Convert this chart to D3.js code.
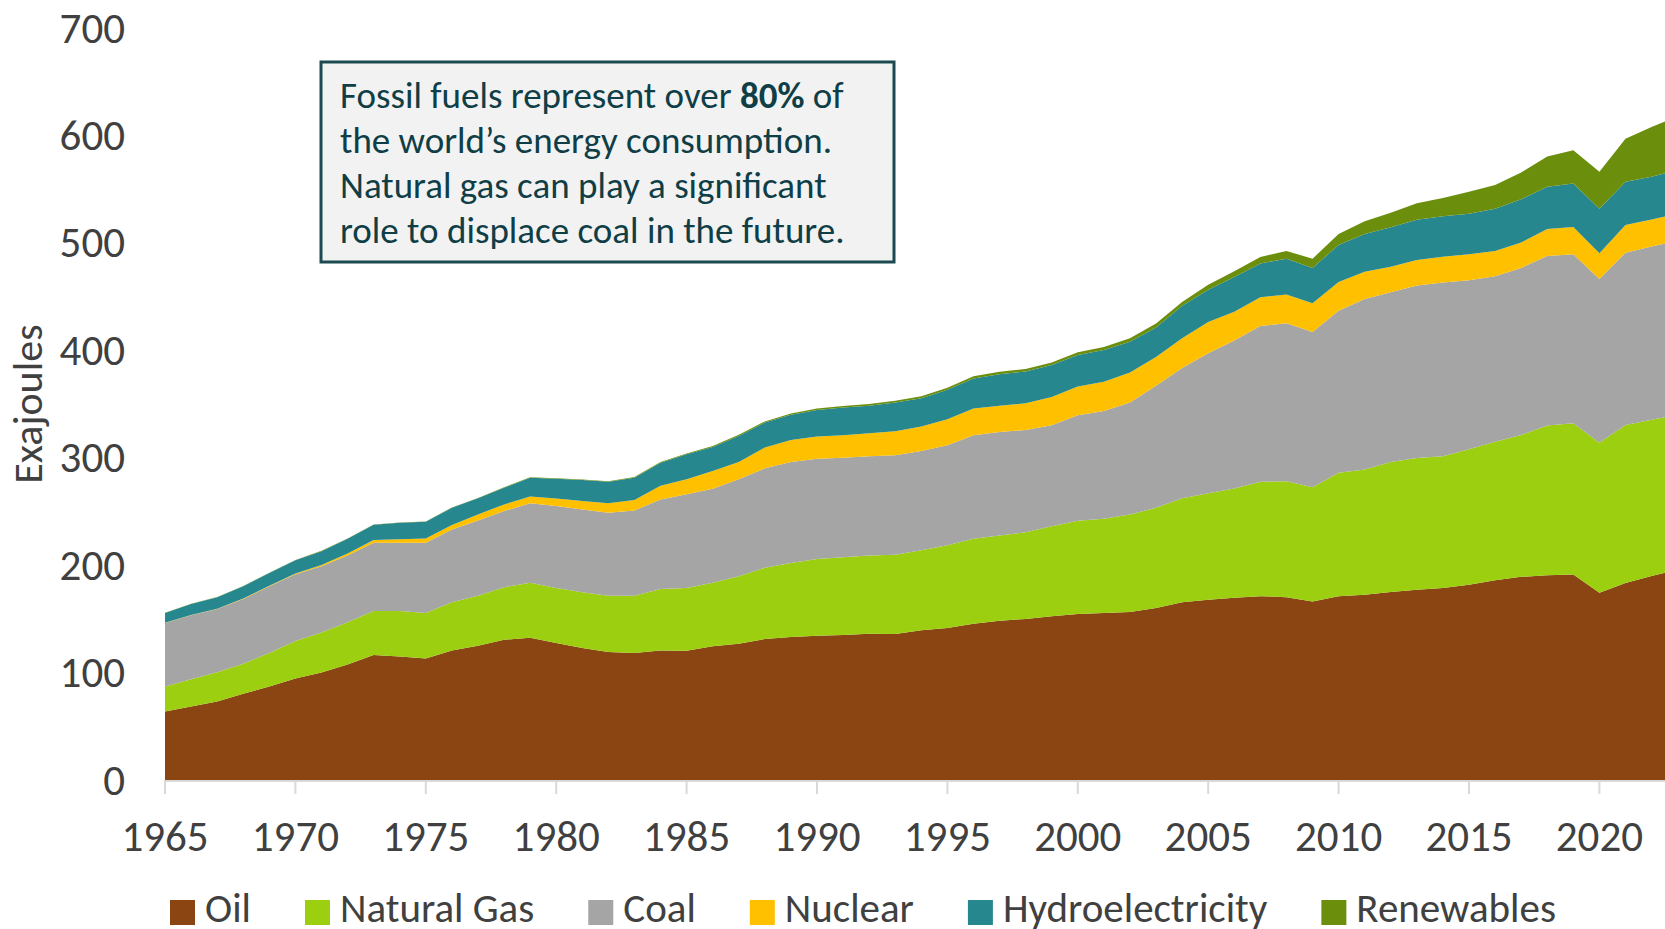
<!DOCTYPE html>
<html>
<head>
<meta charset="utf-8">
<script src="https://cdn.jsdelivr.net/npm/d3@7"></script>
<style>
	html, body { margin: 0; padding: 0; background: #fff; }
	svg { display: block; font-family: Carlito, Calibri, Lato, sans-serif; }
	.tick-label { fill: #404040; font-size: 43px; }
	.axis-title { fill: #404040; font-size: 42px; }
	.legend-label { fill: #404040; font-size: 41px; }
	.note { fill: #0f3e46; font-size: 37px; }
</style>
</head>
<body>
<script>
const years = d3.range(1965, 2024);

const oil = [
	63.7, 68.4, 73.1, 80.2, 87.1, 94.5, 100.1, 107.6, 116.3, 115.0,
	113.2, 120.6, 125.0, 130.6, 132.5, 127.5, 122.8, 119.1, 118.2, 120.5,
	120.3, 124.4, 126.9, 131.2, 133.1, 134.3, 135.0, 136.2, 135.9, 139.3,
	141.5, 145.5, 148.3, 149.9, 152.4, 154.5, 155.5, 156.4, 160.1, 165.5,
	167.7, 169.6, 171.1, 170.2, 166.1, 171.1, 172.4, 174.9, 177.1, 178.7,
	181.8, 185.9, 189.1, 190.6, 191.3, 174.3, 183.4, 190.0, 195.6
];
const naturalGas = [
	23.4, 25.5, 27.3, 28.0, 31.1, 34.9, 37.3, 39.2, 41.0, 42.3,
	42.3, 44.8, 46.6, 48.8, 51.0, 51.3, 52.0, 52.5, 53.4, 57.4,
	58.5, 59.1, 62.8, 66.3, 69.0, 71.5, 72.4, 72.8, 73.7, 74.6,
	77.1, 79.0, 79.3, 80.8, 83.9, 86.8, 87.7, 90.8, 93.3, 96.8,
	99.3, 101.8, 106.6, 107.8, 106.3, 114.8, 116.6, 121.1, 122.6, 122.6,
	126.1, 128.9, 132.0, 139.3, 140.8, 139.6, 147.1, 145.3, 144.1
];
const coal = [
	59.0, 59.4, 58.8, 60.3, 62.1, 62.1, 61.6, 62.2, 63.5, 63.5,
	65.3, 67.8, 70.0, 70.9, 74.0, 76.2, 77.1, 77.2, 79.3, 83.3,
	87.1, 87.6, 90.2, 92.6, 93.9, 93.3, 92.6, 92.3, 92.6, 92.4,
	93.0, 96.4, 96.4, 95.2, 93.9, 98.3, 100.4, 104.2, 113.5, 121.1,
	130.2, 137.7, 145.0, 147.2, 144.6, 150.9, 158.8, 158.1, 160.7, 161.9,
	157.2, 154.1, 155.6, 157.8, 157.2, 152.5, 160.4, 161.2, 162.6
];
const nuclear = [
	0.2, 0.2, 0.3, 0.4, 0.5, 0.8, 1.2, 1.9, 2.5, 3.2,
	4.0, 4.1, 5.6, 6.2, 6.4, 7.0, 7.7, 8.7, 9.7, 12.8,
	14.0, 16.5, 16.1, 19.3, 20.5, 20.6, 20.9, 21.5, 22.4, 22.7,
	24.2, 24.9, 24.3, 24.8, 26.4, 26.7, 27.0, 28.0, 26.8, 27.9,
	29.2, 26.8, 26.7, 26.7, 26.7, 26.7, 25.2, 23.6, 23.6, 23.9,
	24.2, 23.6, 23.6, 25.2, 25.5, 23.9, 25.8, 25.2, 25.0
];
const hydro = [
	9.2, 10.4, 10.6, 11.4, 12.0, 12.3, 12.8, 13.6, 14.3, 15.4,
	15.6, 16.1, 15.0, 15.5, 17.5, 18.5, 19.6, 20.2, 20.8, 21.4,
	23.3, 22.4, 24.3, 23.3, 23.4, 24.8, 25.8, 25.5, 26.8, 26.4,
	27.4, 28.0, 29.5, 29.6, 29.6, 29.2, 29.6, 28.5, 27.5, 30.2,
	29.9, 32.4, 31.4, 33.3, 33.0, 34.6, 35.2, 36.8, 37.4, 37.7,
	37.7, 39.3, 40.3, 39.3, 40.5, 41.5, 40.2, 39.9, 40.7
];
const renewables = [
	0.2, 0.2, 0.2, 0.2, 0.2, 0.3, 0.3, 0.3, 0.3, 0.3,
	0.3, 0.3, 0.3, 0.4, 0.4, 0.4, 0.5, 0.5, 0.6, 0.7,
	0.8, 0.9, 1.0, 1.1, 1.3, 1.4, 1.5, 1.6, 1.7, 1.8,
	1.9, 2.0, 2.2, 2.3, 2.5, 2.7, 2.9, 3.3, 3.7, 3.5,
	4.7, 5.3, 6.0, 7.3, 8.5, 10.1, 11.9, 13.5, 15.5, 17.0,
	20.5, 22.0, 24.8, 28.3, 30.9, 34.5, 39.9, 46.2, 50.0
];

const seriesNames = ["Oil", "Natural Gas", "Coal", "Nuclear", "Hydroelectricity", "Renewables"];
const seriesValues = [oil, naturalGas, coal, nuclear, hydro, renewables];
const colors = ["#8B4513", "#9BCF0F", "#A5A5A5", "#FFC000", "#27878F", "#6B8E0D"];

const yTicks = [0, 100, 200, 300, 400, 500, 600, 700];
const xTicks = [1965, 1970, 1975, 1980, 1985, 1990, 1995, 2000, 2005, 2010, 2015, 2020];

const config = {
	width: 1665,
	height: 929,
	left: 165,
	yearStep: 26.08,
	top: 28,
	bottom: 780
};

const rows = years.map((year, i) => {
	const row = { year: year };
	seriesNames.forEach((name, s) => { row[name] = seriesValues[s][i]; });
	return row;
});

const svg = d3.select("body")
	.append("svg")
	.attr("width", config.width)
	.attr("height", config.height);

const x = d3.scaleLinear()
	.domain([1965, 2023])
	.range([config.left, config.left + 58 * config.yearStep]);

const y = d3.scaleLinear()
	.domain([0, 700])
	.range([config.bottom, config.top]);

const color = d3.scaleOrdinal().domain(seriesNames).range(colors);

// stacked areas
const stacked = d3.stack().keys(seriesNames)(rows);

const area = d3.area()
	.x(d => x(d.data.year))
	.y0(d => y(d[0]))
	.y1(d => y(d[1]));

svg.append("g")
	.selectAll("path")
	.data(stacked)
	.join("path")
	.attr("fill", d => color(d.key))
	.attr("d", area);

// x axis line + ticks
svg.append("line")
	.attr("x1", x(1965))
	.attr("x2", config.width)
	.attr("y1", y(0) + 1)
	.attr("y2", y(0) + 1)
	.attr("stroke", "#d9d9d9")
	.attr("stroke-width", 2);

svg.append("g")
	.selectAll("line")
	.data(xTicks)
	.join("line")
	.attr("x1", d => x(d))
	.attr("x2", d => x(d))
	.attr("y1", y(0))
	.attr("y2", y(0) + 14)
	.attr("stroke", "#d9d9d9")
	.attr("stroke-width", 2);

svg.append("g")
	.selectAll("text")
	.data(xTicks)
	.join("text")
	.attr("class", "tick-label")
	.attr("x", d => x(d))
	.attr("y", y(0) + 56)
	.attr("text-anchor", "middle")
	.attr("dominant-baseline", "central")
	.text(d => d);

// y labels
svg.append("g")
	.selectAll("text")
	.data(yTicks)
	.join("text")
	.attr("class", "tick-label")
	.attr("x", 125)
	.attr("y", d => y(d))
	.attr("text-anchor", "end")
	.attr("dominant-baseline", "central")
	.text(d => d);

svg.append("text")
	.attr("class", "axis-title")
	.attr("transform", "translate(27, 404) rotate(-90)")
	.attr("text-anchor", "middle")
	.attr("dominant-baseline", "central")
	.text("Exajoules");

// legend
const legend = svg.append("g");
let legendX = 170;
seriesNames.forEach((name) => {
	legend.append("rect")
		.attr("x", legendX)
		.attr("y", 900)
		.attr("width", 25)
		.attr("height", 25)
		.attr("fill", color(name));
	const label = legend.append("text")
		.attr("class", "legend-label")
		.attr("x", legendX + 35)
		.attr("y", 922)
		.text(name);
	legendX += 35 + label.node().getComputedTextLength() + 54;
});

// annotation box
const note = svg.append("g");
note.append("rect")
	.attr("x", 321)
	.attr("y", 62)
	.attr("width", 573)
	.attr("height", 200)
	.attr("fill", "#f2f2f2")
	.attr("stroke", "#1b4a51")
	.attr("stroke-width", 3);

const noteLines = [
	[["Fossil fuels represent over ", false], ["80%", true], [" of", false]],
	[["the world\u2019s energy consumption.", false]],
	[["Natural gas can play a significant", false]],
	[["role to displace coal in the future.", false]]
];

noteLines.forEach((parts, i) => {
	const t = note.append("text")
		.attr("class", "note")
		.attr("x", 340)
		.attr("y", 95 + i * 45)
		.attr("dominant-baseline", "central");
	parts.forEach(([str, bold]) => {
		t.append("tspan")
			.attr("font-weight", bold ? "bold" : null)
			.text(str);
	});
});
</script>
</body>
</html>
